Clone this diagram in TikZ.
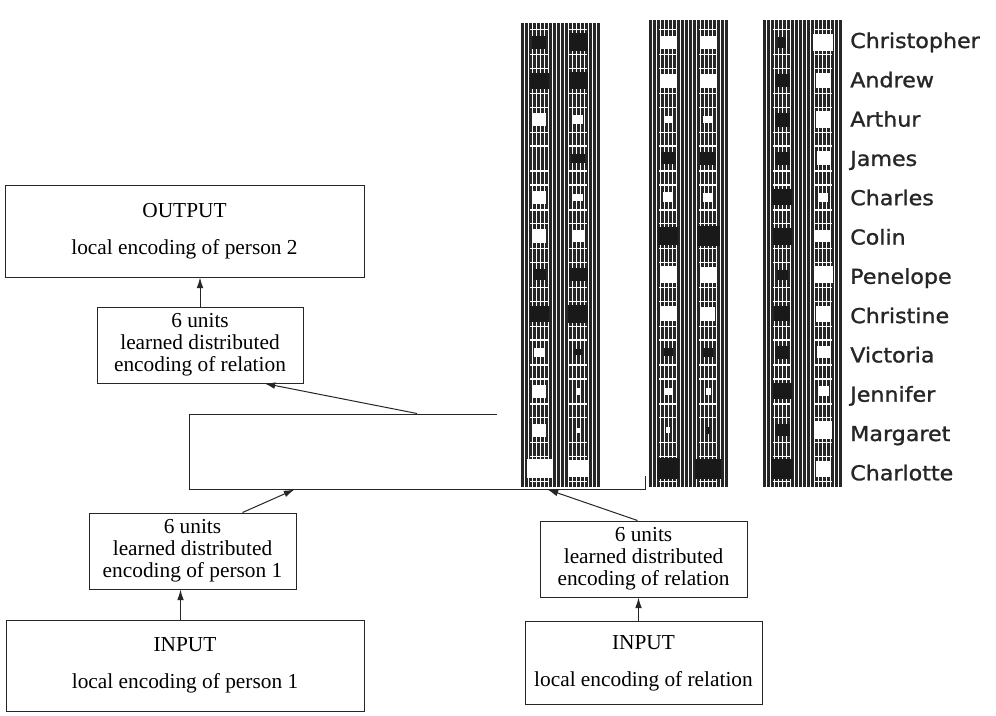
\documentclass[tikz,border=0pt]{standalone}
\usepackage{fontspec}
\setmainfont{Liberation Serif}
\newfontfamily\lblfont[FakeStretch=1.08,FakeBold=1.2]{DejaVu Sans}
\usetikzlibrary{arrows.meta,calc}
\colorlet{sqb}{black!90}
\colorlet{sqw}{white}
\colorlet{stripe}{black!85}
\begin{document}
\begin{tikzpicture}[x=0.75pt,y=-0.75pt,
  box/.style={draw=black!85, line width=0.75pt, inner sep=0pt, align=center,
              font=\fontsize{16}{16.5}\selectfont},
  arr/.style={draw=black!85, line width=0.75pt, -{Latex[length=8pt,width=5pt]}},
  lbl/.style={anchor=base west, inner sep=0pt, text=black!85,
              font=\lblfont\fontsize{15.4}{16}\selectfont}]
\useasboundingbox (0,0) rectangle (996,715);
\fill[white] (0,0) rectangle (996,715);

% boxes
\node[box, minimum width=269.25pt, minimum height=69pt] (out) at (184.5,231)
  {OUTPUT\\[11.25pt]local encoding of person 2};
\node[box, minimum width=154.5pt, minimum height=57pt] (relTop) at (200,345)
  {6 units\\learned distributed\\encoding of relation};
\node[box, minimum width=342pt, minimum height=56.25pt] (hidden) at (417,451.5) {};
\node[box, minimum width=155.25pt, minimum height=57pt] (p1) at (192.5,551)
  {6 units\\learned distributed\\encoding of person 1};
\node[box, minimum width=155.25pt, minimum height=57pt] (relBot) at (643.5,559)
  {6 units\\learned distributed\\encoding of relation};
\node[box, minimum width=268.5pt, minimum height=68.25pt] (in1) at (185,665.5)
  {INPUT\\[11.25pt]local encoding of person 1};
\node[box, minimum width=177.75pt, minimum height=62.25pt] (in2) at (643.5,663)
  {INPUT\\[11.25pt]local encoding of relation};

% connectors
\draw[arr] (relTop.north) -- (relTop.north |- out.south);
\coordinate (t2) at ($(relTop.south west)+(168,0)$);
\draw[arr] (hidden.north) -- (t2);
\coordinate (s3) at ($(p1.north west)+(154,0)$);
\coordinate (t3) at ($(hidden.south west)+(106,0)$);
\draw[arr] (s3) -- (t3);
\coordinate (s4) at ($(relBot.north west)+(98,0)$);
\coordinate (t4) at ($(hidden.south west)+(359,0)$);
\draw[arr] (s4) -- (t4);
\coordinate (s5) at ($(in1.north west)+(175,0)$);
\draw[arr] (s5) -- (s5 |- p1.south);
\coordinate (s6) at ($(in2.north west)+(114,0)$);
\draw[arr] (s6) -- (s6 |- relBot.south);

% weight display (bitmap)
\fill[white] (497,0) rectangle (996,476);
\foreach \px/\py in {521/23,649/20,763/20}{
  \foreach \k in {0,...,19}{
    \fill[stripe] ({\px+4*\k},\py) rectangle ({\px+4*\k+2.5},487);
  }
}
% broken stripes inside the unit columns
\foreach \ux in {539,578,668,708,782,823}{
  \foreach \r in {0,...,11}{
    \fill[white] ({\ux-9},{42+38.8*\r-13}) rectangle ++(18,1.3);
    \fill[white] ({\ux-9},{42+38.8*\r+12}) rectangle ++(18,1.3);
  }
}
% unit squares: row/colour/w/h
\foreach \r/\c/\w/\h in {0/b/14/13,1/b/19/16,2/w/14/13,4/w/14/13,5/w/14/14,6/b/13/11,
  7/b/19/16,8/w/10/9,9/w/14/13,10/w/14/13,11/w/25/19}
  \fill[sq\c] ({539-\w/2},{42+38.8*\r-\h/2}) rectangle ++(\w,\h);
\foreach \r/\c/\w/\h in {0/b/19/18,1/b/19/17,2/w/10/9,3/b/14/9,4/w/10/7,5/w/11/12,6/b/19/13,
  7/b/20/18,8/b/8/6,9/w/4/7,10/w/4/5,11/w/19/17}
  \fill[sq\c] ({578-\w/2},{42+38.8*\r-\h/2}) rectangle ++(\w,\h);
\foreach \r/\c/\w/\h in {0/w/15/13,1/w/15/14,2/w/9/7,3/b/15/12,4/w/10/10,5/b/20/18,6/w/17/17,
  7/w/16/15,8/b/9/8,9/w/9/7,10/w/4/6,11/b/22/21}
  \fill[sq\c] ({668-\w/2},{42+38.8*\r-\h/2}) rectangle ++(\w,\h);
\foreach \r/\c/\w/\h in {0/w/15/13,1/w/15/14,2/w/10/7,3/b/16/13,4/w/10/9,5/b/23/20,6/w/17/16,
  7/w/14/14,8/b/10/9,9/w/5/7,10/b/4/7,11/b/26/20}
  \fill[sq\c] ({708-\w/2},{42+38.8*\r-\h/2}) rectangle ++(\w,\h);
\foreach \r/\c/\w/\h in {0/b/8/11,1/b/15/13,2/b/15/14,3/b/15/13,4/b/20/16,5/b/19/17,6/b/11/10,
  7/b/16/15,8/b/14/13,9/b/19/16,10/b/15/12,11/b/22/20}
  \fill[sq\c] ({782-\w/2},{42+38.8*\r-\h/2}) rectangle ++(\w,\h);
\foreach \r/\c/\w/\h in {0/w/20/17,1/w/15/15,2/w/15/17,3/w/13/14,4/w/10/9,5/w/16/12,6/w/19/17,
  7/w/15/16,8/w/13/12,9/w/11/10,10/w/17/18,11/w/15/16}
  \fill[sq\c] ({823-\w/2},{42+38.8*\r-\h/2}) rectangle ++(\w,\h);

% names
\foreach \n [count=\i from 0] in {Christopher,Andrew,Arthur,James,Charles,Colin,Penelope,
  Christine,Victoria,Jennifer,Margaret,Charlotte}
  \node[lbl] (name\i) at (850,{48+39.3*\i}) {\n};
\end{tikzpicture}
\end{document}
